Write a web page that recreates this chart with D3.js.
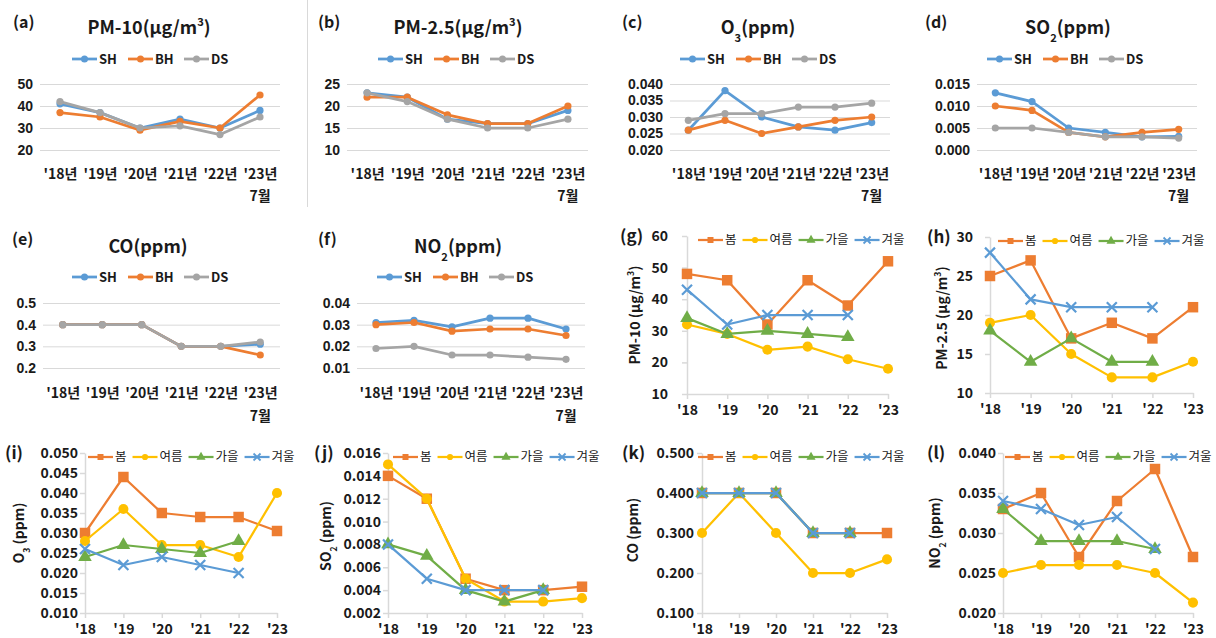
<!DOCTYPE html>
<html>
<head>
<meta charset="utf-8">
<script src="https://cdn.jsdelivr.net/npm/d3@7"></script>
<style>
  body { margin: 0; background: #fff; }
  svg { display: block; }
  text { font-family: "Noto Sans CJK KR", "Noto Sans", sans-serif; fill: #1a1a1a; }
  .num text { font-family: "Liberation Sans", Arial, sans-serif; }
</style>
</head>
<body>
<svg id="chart" width="1216" height="638"></svg>
<script>
// categories
const siteYears = ["'18년", "'19년", "'20년", "'21년", "'22년", "'23년"];
const seasonYears = ["'18", "'19", "'20", "'21", "'22", "'23"];
const sites = ["SH", "BH", "DS"];
const seasons = ["봄", "여름", "가을", "겨울"];

// annual means by site (SH, BH, DS)
const pm10BySite = [[41, 37, 30, 34, 30, 38], [37, 35, 29, 33, 30, 45], [42, 37, 30, 31, 27, 35]];
const pm25BySite = [[23, 22, 17, 16, 16, 19], [22, 22, 18, 16, 16, 20], [23, 21, 17, 15, 15, 17]];
const o3BySite = [[0.026, 0.038, 0.030, 0.027, 0.026, 0.0283], [0.026, 0.029, 0.025, 0.027, 0.029, 0.030], [0.029, 0.031, 0.031, 0.033, 0.033, 0.0342]];
const so2BySite = [[0.013, 0.011, 0.005, 0.004, 0.003, 0.0031], [0.010, 0.009, 0.004, 0.003, 0.004, 0.0047], [0.005, 0.005, 0.004, 0.003, 0.003, 0.0027]];
const coBySite = [[0.4, 0.4, 0.4, 0.3, 0.3, 0.31], [0.4, 0.4, 0.4, 0.3, 0.3, 0.26], [0.4, 0.4, 0.4, 0.3, 0.3, 0.32]];
const no2BySite = [[0.031, 0.032, 0.029, 0.033, 0.033, 0.028], [0.030, 0.031, 0.027, 0.028, 0.028, 0.025], [0.019, 0.020, 0.016, 0.016, 0.015, 0.014]];

// seasonal means (봄, 여름, 가을, 겨울)
const pm10BySeason = [[48, 46, 32, 46, 38, 52], [32, 29, 24, 25, 21, 18], [34, 29, 30, 29, 28, null], [43, 32, 35, 35, 35, null]];
const pm25BySeason = [[25, 27, 17, 19, 17, 21], [19, 20, 15, 12, 12, 14], [18, 14, 17, 14, 14, null], [28, 22, 21, 21, 21, null]];
const o3BySeason = [[0.030, 0.044, 0.035, 0.034, 0.034, 0.0305], [0.028, 0.036, 0.027, 0.027, 0.024, 0.040], [0.024, 0.027, 0.026, 0.025, 0.028, null], [0.026, 0.022, 0.024, 0.022, 0.020, null]];
const so2BySeason = [[0.014, 0.012, 0.005, 0.004, 0.004, 0.0043], [0.015, 0.012, 0.005, 0.003, 0.003, 0.0033], [0.008, 0.007, 0.004, 0.003, 0.004, null], [0.008, 0.005, 0.004, 0.004, 0.004, null]];
const coBySeason = [[0.4, 0.4, 0.4, 0.3, 0.3, 0.3], [0.3, 0.4, 0.3, 0.2, 0.2, 0.234], [0.4, 0.4, 0.4, 0.3, 0.3, null], [0.4, 0.4, 0.4, 0.3, 0.3, null]];
const no2BySeason = [[0.033, 0.035, 0.027, 0.034, 0.038, 0.027], [0.025, 0.026, 0.026, 0.026, 0.025, 0.0213], [0.033, 0.029, 0.029, 0.029, 0.028, null], [0.034, 0.033, 0.031, 0.032, 0.028, null]];

// tick values
const pm10SiteTicks = [20, 30, 40, 50];
const pm25SiteTicks = [10, 15, 20, 25];
const o3SiteTicks = [0.020, 0.025, 0.030, 0.035, 0.040];
const so2SiteTicks = [0.000, 0.005, 0.010, 0.015];
const coSiteTicks = [0.2, 0.3, 0.4, 0.5];
const no2SiteTicks = [0.01, 0.02, 0.03, 0.04];
const pm10SeasonTicks = [10, 20, 30, 40, 50, 60];
const pm25SeasonTicks = [10, 15, 20, 25, 30];
const o3SeasonTicks = [0.010, 0.015, 0.020, 0.025, 0.030, 0.035, 0.040, 0.045, 0.050];
const so2SeasonTicks = [0.002, 0.004, 0.006, 0.008, 0.010, 0.012, 0.014, 0.016];
const coSeasonTicks = [0.100, 0.200, 0.300, 0.400, 0.500];
const no2SeasonTicks = [0.020, 0.025, 0.030, 0.035, 0.040];

const siteColors = ["#5B9BD5", "#ED7D31", "#A5A5A5"];
const seasonColors = ["#ED7D31", "#FFC000", "#70AD47", "#5B9BD5"];

const svg = d3.select('#chart');

function rich(text, parts) {
  parts.forEach(([s, k]) => {
    const t = text.append('tspan').text(s);
    if (k) t.attr('baseline-shift', k === 'sup' ? 'super' : 'sub').attr('font-size', '62%');
  });
}

// separator between (a) and (b)
svg.append('line').attr('x1', 307.5).attr('x2', 307.5).attr('y1', 0).attr('y2', 207)
  .attr('stroke', '#d9d9d9');

// ---- site panels (a)-(f)
const rows = [
  { tag: 22, title: 28, legend: 59, yTop: 84, yBot: 150, xlab: 174, month: 196 },
  { tag: 239, title: 247, legend: 277, yTop: 303, yBot: 368, xlab: 393, month: 416 }
];

function sitePanel(c) {
  const R = rows[c.row];
  const g = svg.append('g');
  const x = d3.scalePoint().domain(siteYears).range([c.gx0, c.gx1]).padding(0.5);
  const y = d3.scaleLinear().domain(d3.extent(c.ticks)).range([R.yBot, R.yTop]);

  g.append('g').attr('class', 'num').attr('transform', `translate(${c.gx0},0)`)
    .call(d3.axisLeft(y).tickValues(c.ticks).tickFormat(c.fmt)
      .tickSize(-(c.gx1 - c.gx0)).tickPadding(7))
    .call(s => {
      s.attr('font-size', null).attr('font-family', null);
      s.select('.domain').remove();
      s.selectAll('line').attr('stroke', '#d9d9d9');
      s.selectAll('text').attr('font-size', 14).attr('font-weight', 'bold').attr('fill', '#1a1a1a');
    });

  g.append('g').attr('transform', `translate(0,${R.xlab})`)
    .call(d3.axisBottom(x).tickSize(0).tickPadding(0))
    .call(s => {
      s.attr('font-size', null).attr('font-family', null);
      s.select('.domain').remove();
      s.selectAll('text').attr('dy', '0.35em').attr('font-size', 14)
        .attr('font-weight', 'bold').attr('fill', '#1a1a1a');
    });
  g.append('text').attr('x', x(siteYears[5])).attr('y', R.month).attr('dy', '0.35em')
    .attr('text-anchor', 'middle').attr('font-size', 14).attr('font-weight', 'bold').text('7월');

  g.append('text').attr('x', c.tagX).attr('y', R.tag).attr('dy', '0.35em')
    .attr('font-size', 16).attr('font-weight', 'bold').text(c.tag);
  const t = g.append('text').attr('x', c.titleX).attr('y', R.title).attr('dy', '0.35em')
    .attr('text-anchor', 'middle').attr('font-size', 18).attr('font-weight', 'bold');
  rich(t, c.title);

  // legend
  sites.forEach((s, i) => {
    const lx = c.legendX + i * 56;
    g.append('line').attr('x1', lx).attr('x2', lx + 25).attr('y1', R.legend).attr('y2', R.legend)
      .attr('stroke', siteColors[i]).attr('stroke-width', 2.75);
    g.append('circle').attr('cx', lx + 12.5).attr('cy', R.legend).attr('r', 3.5).attr('fill', siteColors[i]);
    g.append('text').attr('x', lx + 27).attr('y', R.legend).attr('dy', '0.35em')
      .attr('font-size', 13).attr('font-weight', 'bold').text(s);
  });

  const line = d3.line().x((d, i) => x(siteYears[i])).y(d => y(d));
  c.values.forEach((vals, k) => {
    g.append('path').datum(vals).attr('d', line).attr('fill', 'none')
      .attr('stroke', siteColors[k]).attr('stroke-width', 2.75).attr('stroke-linejoin', 'round');
    g.selectAll(null).data(vals).join('circle')
      .attr('cx', (d, i) => x(siteYears[i])).attr('cy', d => y(d)).attr('r', 3.6)
      .attr('fill', siteColors[k]);
  });
}

const f3 = d3.format('.3f'), f2 = d3.format('.2f'), f1 = d3.format('.1f'), fd = d3.format('d');

sitePanel({ row: 0, tag: '(a)', tagX: 13, title: [['PM-10(μg/m'], ['3', 'sup'], [')']], titleX: 149, legendX: 72,
  gx0: 40, gx1: 280, ticks: pm10SiteTicks, fmt: fd, values: pm10BySite });
sitePanel({ row: 0, tag: '(b)', tagX: 318, title: [['PM-2.5(μg/m'], ['3', 'sup'], [')']], titleX: 458, legendX: 378,
  gx0: 347, gx1: 588, ticks: pm25SiteTicks, fmt: fd, values: pm25BySite });
sitePanel({ row: 0, tag: '(c)', tagX: 622, title: [['O'], ['3', 'sub'], ['(ppm)']], titleX: 758, legendX: 680,
  gx0: 670, gx1: 890, ticks: o3SiteTicks, fmt: f3, values: o3BySite });
sitePanel({ row: 0, tag: '(d)', tagX: 925, title: [['SO'], ['2', 'sub'], ['(ppm)']], titleX: 1068, legendX: 987,
  gx0: 977, gx1: 1197, ticks: so2SiteTicks, fmt: f3, values: so2BySite });
sitePanel({ row: 1, tag: '(e)', tagX: 12, title: [['CO(ppm)']], titleX: 148, legendX: 72,
  gx0: 43, gx1: 280, ticks: coSiteTicks, fmt: f1, values: coBySite });
sitePanel({ row: 1, tag: '(f)', tagX: 318, title: [['NO'], ['2', 'sub'], ['(ppm)']], titleX: 458, legendX: 377,
  gx0: 357, gx1: 585, ticks: no2SiteTicks, fmt: f2, values: no2BySite });

// ---- seasonal panels (g)-(l)
function xMark(s) {
  return `M${-s},${-s}L${s},${s}M${-s},${s}L${s},${-s}`;
}
function marker(sel, k, big) {
  const col = seasonColors[k];
  if (k === 3) {
    sel.append('path').attr('d', xMark(big ? 5 : 3.5)).attr('stroke', col)
      .attr('stroke-width', big ? 2.2 : 1.8).attr('fill', 'none');
    return;
  }
  const types = [d3.symbolSquare, d3.symbolCircle, d3.symbolTriangle];
  const sizes = big ? [110, 80, 80] : [36, 30, 36];
  sel.append('path').attr('d', d3.symbol().type(types[k]).size(sizes[k])()).attr('fill', col);
}

function seasonPanel(c) {
  const g = svg.append('g');
  const x = d3.scalePoint().domain(seasonYears).range([c.ax, c.xEnd]);
  const y = d3.scaleLinear().domain(d3.extent(c.ticks)).range([c.yBot, c.yTop]);

  g.append('g').attr('transform', `translate(${c.ax},0)`)
    .call(d3.axisLeft(y).tickValues(c.ticks).tickFormat(c.fmt).tickSize(5).tickSizeOuter(0)
      .tickPadding(c.ax - c.labR - 5))
    .call(s => {
      s.attr('font-size', null).attr('font-family', null);
      s.selectAll('path,line').attr('stroke', '#d9d9d9').attr('stroke-width', 1.5);
      s.selectAll('text').attr('font-size', 14).attr('font-weight', 'bold').attr('fill', '#1a1a1a');
    });
  g.append('g').attr('transform', `translate(0,${c.yBot})`)
    .call(d3.axisBottom(x).tickSize(5).tickSizeOuter(0).tickPadding(6))
    .call(s => {
      s.attr('font-size', null).attr('font-family', null);
      s.selectAll('path,line').attr('stroke', '#d9d9d9').attr('stroke-width', 1.5);
      s.selectAll('text').attr('font-size', 14).attr('font-weight', 'bold').attr('fill', '#1a1a1a');
    });

  g.append('text').attr('x', c.tagX).attr('y', c.yTop).attr('dy', '0.35em')
    .attr('font-size', 17).attr('font-weight', 'bold').text(c.tag);
  const t = g.append('text').attr('transform', `translate(${c.titleX},${c.titleY}) rotate(-90)`)
    .attr('dy', '0.35em').attr('text-anchor', 'middle').attr('font-size', 14).attr('font-weight', 'bold');
  rich(t, c.title);

  const line = d3.line().defined(d => d != null).x((d, i) => x(seasonYears[i])).y(d => y(d));
  c.values.forEach((vals, k) => {
    g.append('path').datum(vals).attr('d', line).attr('fill', 'none')
      .attr('stroke', seasonColors[k]).attr('stroke-width', 2.25).attr('stroke-linejoin', 'round');
    vals.forEach((v, i) => {
      if (v == null) return;
      const m = g.append('g').attr('transform', `translate(${x(seasonYears[i])},${y(v)})`);
      marker(m, k, true);
    });
  });

  // legend
  let lx = c.legendX;
  const ly = c.yTop + 4;
  seasons.forEach((s, k) => {
    g.append('line').attr('x1', lx).attr('x2', lx + 25).attr('y1', ly).attr('y2', ly)
      .attr('stroke', seasonColors[k]).attr('stroke-width', 2.25);
    marker(g.append('g').attr('transform', `translate(${lx + 12.5},${ly})`), k, false);
    const tx = g.append('text').attr('x', lx + 27).attr('y', ly).attr('dy', '0.35em')
      .attr('font-size', 12.5).attr('fill', '#333').text(s);
    lx += 27 + tx.node().getComputedTextLength() + 6;
  });
}

seasonPanel({ tag: '(g)', tagX: 620, ax: 687, xEnd: 888, yTop: 236, yBot: 394, labR: 668, legendX: 698,
  titleX: 635, titleY: 315, title: [['PM-10 (μg/m'], ['3', 'sup'], [')']], ticks: pm10SeasonTicks, fmt: fd, values: pm10BySeason });
seasonPanel({ tag: '(h)', tagX: 927, ax: 990, xEnd: 1193, yTop: 237, yBot: 393, labR: 973, legendX: 998,
  titleX: 942, titleY: 318, title: [['PM-2.5 (μg/m'], ['3', 'sup'], [')']], ticks: pm25SeasonTicks, fmt: fd, values: pm25BySeason });
seasonPanel({ tag: '(i)', tagX: 5, ax: 85, xEnd: 277, yTop: 453, yBot: 613, labR: 78, legendX: 88,
  titleX: 19, titleY: 533, title: [['O'], ['3', 'sub'], [' (ppm)']], ticks: o3SeasonTicks, fmt: f3, values: o3BySeason });
seasonPanel({ tag: '(j)', tagX: 314, ax: 388, xEnd: 582, yTop: 453, yBot: 613, labR: 381, legendX: 393,
  titleX: 326, titleY: 536, title: [['SO'], ['2', 'sub'], [' (ppm)']], ticks: so2SeasonTicks, fmt: f3, values: so2BySeason });
seasonPanel({ tag: '(k)', tagX: 622, ax: 702, xEnd: 887, yTop: 453, yBot: 613, labR: 694, legendX: 698,
  titleX: 633, titleY: 530, title: [['CO (ppm)']], ticks: coSeasonTicks, fmt: f3, values: coBySeason });
seasonPanel({ tag: '(l)', tagX: 927, ax: 1003, xEnd: 1193, yTop: 453, yBot: 613, labR: 996, legendX: 1005,
  titleX: 935, titleY: 533, title: [['NO'], ['2', 'sub'], [' (ppm)']], ticks: no2SeasonTicks, fmt: f3, values: no2BySeason });
</script>
</body>
</html>
